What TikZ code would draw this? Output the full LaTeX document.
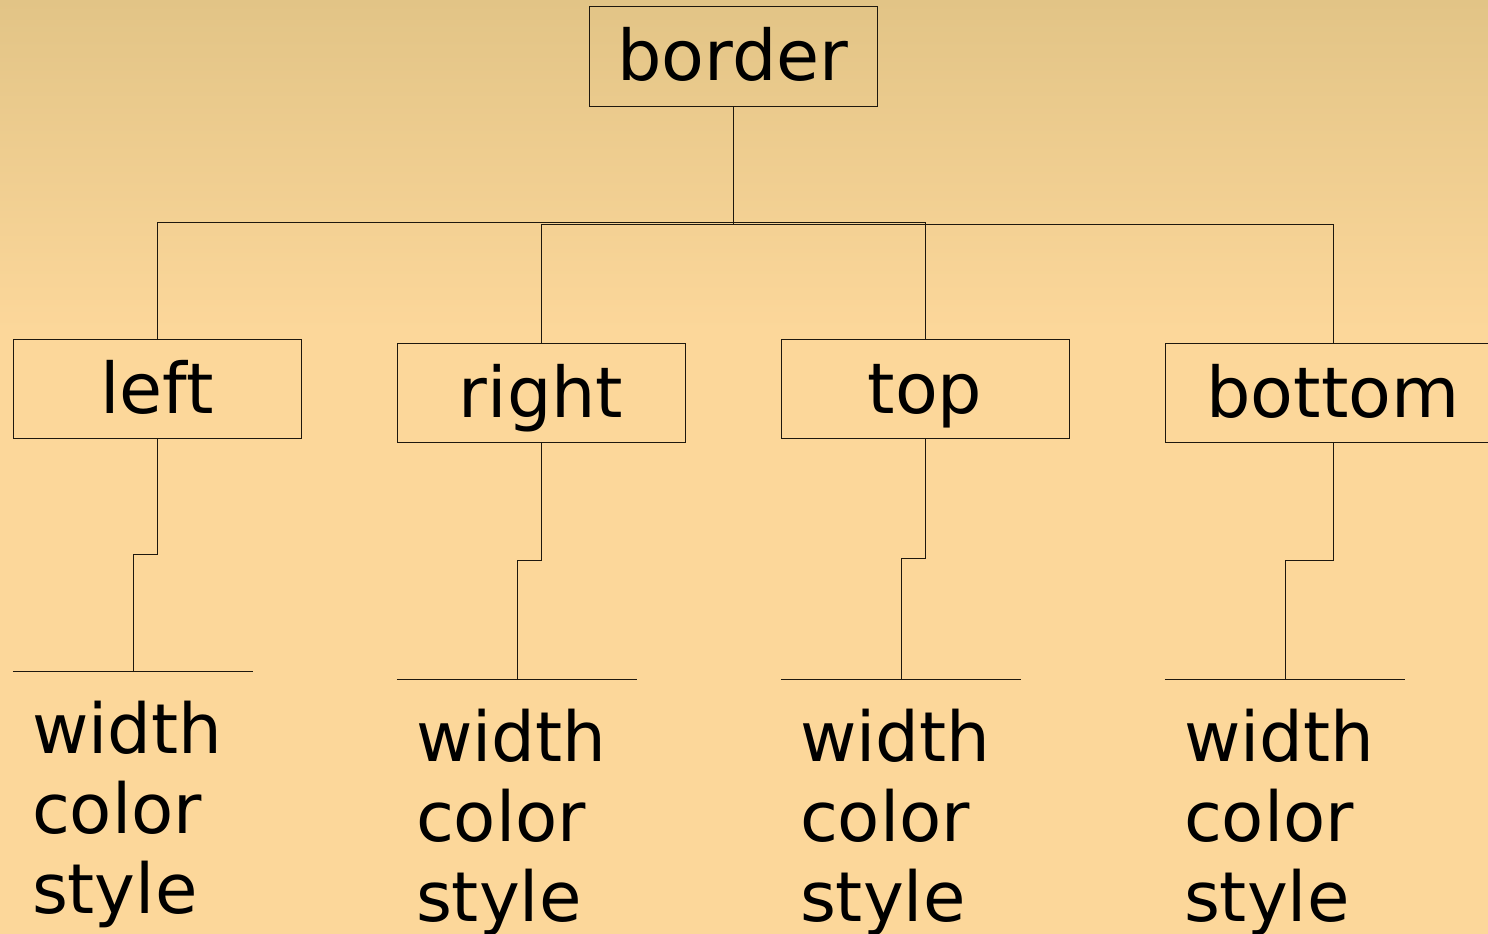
\documentclass[tikz,border=0pt]{standalone}
\usepackage{fontspec}
\setmainfont{DejaVu Sans}
\usetikzlibrary{calc}
\definecolor{bgtop}{RGB}{226,196,134}
\definecolor{bgbot}{RGB}{252,215,154}
\definecolor{ink}{RGB}{30,24,14}
\tikzset{
  wire/.style={draw=ink, line width=1pt},
  keybox/.style={wire, rectangle, minimum width=288pt, minimum height=99pt,
    inner sep=0pt, text height=62pt, text depth=13pt,
    font=\fontsize{70}{80}\selectfont},
  proplist/.style={rectangle, anchor=north, inner ysep=0pt, inner xsep=19pt,
    text width=202pt, align=left, font=\fontsize{69}{80}\selectfont},
  elbow/.style={to path={(\tikztostart) |- ($(\tikztostart)!.5!(\tikztotarget)$) -| (\tikztotarget)}}
}
\newcommand{\firstline}{\rule{0pt}{82pt}}
\begin{document}
\begin{tikzpicture}[x=1pt, y=-1pt]
  % background
  \useasboundingbox (0,0) rectangle (1488,934);
  \clip (0,0) rectangle (1488,934);
  \shade[top color=bgtop, bottom color=bgbot] (0,0) rectangle (1488,331);
  \fill[bgbot] (0,330) rectangle (1488,934);

  % root and the four sides
  \node[keybox] (border) at (733,56.5) {border};
  \node[keybox] (left)   at (157,388.5) {left};
  \node[keybox] (right)  at (541,392.5) {right};
  \node[keybox] (top)    at (925,388.5) {top};
  \node[keybox, minimum width=336pt] (bottom) at (1333,392.5) {bottom};

  % property lists under each side
  \node[proplist] (leftp)   at (133,671)  {\firstline width\\color\\style};
  \node[proplist] (rightp)  at (517,679)  {\firstline width\\color\\style};
  \node[proplist] (topp)    at (901,679)  {\firstline width\\color\\style};
  \node[proplist] (bottomp) at (1285,679) {\firstline width\\color\\style};

  \foreach \p in {leftp,rightp,topp,bottomp}
    \draw[wire] (\p.north west) -- (\p.north east);

  % connectors
  \foreach \s in {left,right,top,bottom}{
    \draw[wire] (border.south) to[elbow] (\s.north);
    \draw[wire] (\s.south) to[elbow] (\s p.north);
  }
\end{tikzpicture}
\end{document}
